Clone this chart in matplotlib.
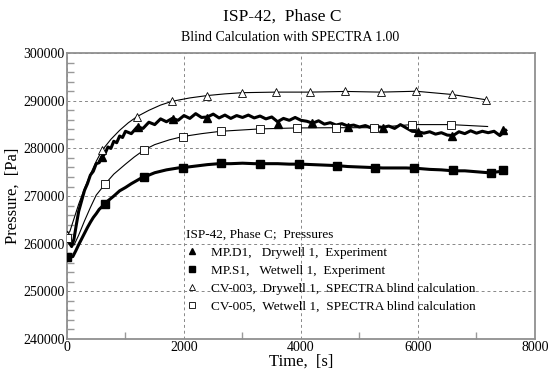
import numpy as np
import matplotlib
matplotlib.use('Agg')
from matplotlib import pyplot as plt

# MP.D1, drywell 1, experiment (thick noisy line)
d1_t = [0, 40, 80, 120, 160, 200, 250, 300, 350, 400, 450, 500, 550, 600, 650, 700, 750, 800,
        850, 900, 950, 1000, 1100, 1200, 1300, 1400, 1500, 1600, 1700, 1800, 1900, 2000, 2100,
        2200, 2300, 2400, 2500, 2600, 2700, 2800, 2900, 3000, 3100, 3200, 3300, 3400, 3500,
        3600, 3700, 3800, 3900, 4000, 4100, 4200, 4300, 4400, 4500, 4600, 4700, 4800, 4900,
        5000, 5100, 5200, 5300, 5400, 5500, 5600, 5700, 5800, 5900, 6000, 6100, 6200, 6300,
        6400, 6500, 6600, 6700, 6800, 6900, 7000, 7100, 7200, 7300, 7400, 7500]
d1_p = [261000, 260200, 259400, 261000, 264000, 266800, 269000, 271200, 272600, 274400, 275200,
        276800, 277000, 278300, 278900, 280300, 280000, 281500, 281200, 282600, 282300, 283600,
        283100, 284500, 284200, 285500, 285000, 286200, 285600, 286300, 285900, 286900, 286300,
        287300, 286500, 286600, 287200, 286400, 287000, 286300, 286900, 286500, 287000, 286400,
        286800, 286200, 286600, 285600, 286300, 285900, 286500, 285900, 285700, 285300, 285800,
        285100, 285400, 284900, 285200, 284700, 284900, 284500, 284800, 284300, 284600, 284400,
        284700, 284200, 285000, 284300, 283600, 283500, 283200, 283500, 283000, 283300, 282800,
        282700, 283500, 283100, 283700, 283200, 283600, 283300, 283600, 282700, 283800]
d1_mark_t = [0, 600, 1210, 1820, 2390, 3600, 4190, 4800, 5400, 6000, 6580, 7460]
d1_mark_p = [261800, 278200, 284500, 286100, 286400, 285200, 285300, 284600, 284300, 283400,
             282700, 283900]

# MP.S1, wetwell 1, experiment
s1_t = [0, 50, 100, 150, 200, 250, 300, 350, 400, 450, 500, 550, 600, 650, 700, 800, 900, 1000,
        1100, 1200, 1300, 1400, 1500, 1600, 1700, 1800, 1900, 2000, 2200, 2400, 2600, 2800,
        3000, 3200, 3400, 3600, 3800, 4000, 4200, 4400, 4600, 4800, 5000, 5200, 5400, 5600,
        5800, 6000, 6200, 6400, 6600, 6800, 7000, 7200, 7300, 7500]
s1_p = [257200, 257200, 257300, 258500, 259800, 261000, 262200, 263400, 264500, 265500, 266300,
        267200, 267800, 268400, 269000, 270000, 271100, 271800, 272600, 273300, 274000, 274400,
        274900, 275200, 275500, 275700, 275900, 276000, 276300, 276600, 276800, 276800, 276900,
        276800, 276800, 276800, 276700, 276700, 276600, 276500, 276400, 276200, 276100, 276000,
        275900, 275900, 275900, 275800, 275600, 275500, 275300, 275300, 275100, 274900, 275000,
        275300]
s1_mark_t = [0, 650, 1320, 1980, 2630, 3300, 3960, 4615, 5270, 5925, 6590, 7250, 7460]
s1_mark_p = [257200, 268400, 274100, 275900, 276900, 276800, 276800, 276400, 275900, 275900,
             275400, 274900, 275400]

# CV-003, drywell 1, SPECTRA blind calculation
cv3_t = [0, 50, 100, 200, 300, 400, 500, 600, 750, 900, 1050, 1200, 1400, 1600, 1800, 2100,
         2400, 2700, 3000, 3570, 4160, 4760, 5360, 5970, 6575, 7170]
cv3_p = [261800, 262600, 264500, 268300, 271600, 274600, 277300, 279600, 281900, 283800,
         285400, 286700, 288000, 289100, 289900, 290600, 291100, 291450, 291700, 291820,
         291820, 291960, 291820, 292000, 291330, 290200]
cv3_mark_t = [0, 600, 1200, 1800, 2400, 3000, 3570, 4160, 4760, 5360, 5970, 6575, 7170]
cv3_mark_p = [261800, 279600, 286700, 289900, 291100, 291700, 291820, 291820, 291960, 291820,
              292000, 291330, 290200]

# CV-005, wetwell 1, SPECTRA blind calculation
cv5_t = [0, 60, 120, 200, 300, 400, 500, 650, 800, 1000, 1150, 1320, 1500, 1750, 1980, 2300,
         2630, 3300, 3930, 4590, 5240, 5890, 6560, 7190]
cv5_p = [261300, 260000, 259700, 261800, 264800, 267600, 270200, 272500, 274600, 276700,
         278200, 279700, 280800, 281800, 282500, 283100, 283600, 284100, 284300, 284350,
         284350, 285000, 285000, 284600]
cv5_mark_t = [0, 650, 1320, 1980, 2630, 3300, 3930, 4590, 5240, 5890, 6560]
cv5_mark_p = [261300, 272500, 279700, 282500, 283600, 284100, 284300, 284350, 284350, 285000,
              285000]

plt.rcParams['font.family'] = ['Liberation Serif', 'DejaVu Serif']

fig = plt.figure(figsize=(5.49, 3.69), dpi=100)
ax = fig.add_axes([0.122, 0.0813, 0.8525, 0.7747])

ax.plot(cv3_t, cv3_p, color='black', lw=0.8, zorder=3)
ax.plot(cv5_t, cv5_p, color='black', lw=0.8, zorder=3)
ax.plot(d1_t, d1_p, color='black', lw=2.2, zorder=4)
ax.plot(s1_t, s1_p, color='black', lw=2.2, zorder=4)

ax.plot(d1_mark_t, d1_mark_p, ls='none', marker='^', ms=5.5, color='black', zorder=5,
        label='MP.D1,   Drywell 1,  Experiment')
ax.plot(s1_mark_t, s1_mark_p, ls='none', marker='s', ms=5.5, color='black', zorder=5,
        label='MP.S1,   Wetwell 1,  Experiment')
ax.plot(cv3_mark_t, cv3_mark_p, ls='none', marker='^', ms=5.5, mfc='white', mec='black',
        mew=0.6, zorder=5, label='CV-003,  Drywell 1,  SPECTRA blind calculation')
ax.plot(cv5_mark_t, cv5_mark_p, ls='none', marker='s', ms=5.5, mfc='white', mec='black',
        mew=0.6, zorder=5, label='CV-005,  Wetwell 1,  SPECTRA blind calculation')

ax.set_xlim(0, 8000)
ax.set_ylim(240000, 300000)
ax.set_xticks([0, 2000, 4000, 6000, 8000])
ax.set_yticks([240000, 250000, 260000, 270000, 280000, 290000, 300000])
ax.set_xticks([1000, 3000, 5000, 7000], minor=True)
ax.set_yticks(np.arange(240000, 300001, 2000), minor=True)
ax.tick_params(which='major', length=0, labelsize=10, pad=1.5)
ax.tick_params(which='minor', direction='in', length=5, color='#999999', width=1.0)
ax.grid(True, which='major', ls=(0, (3, 3)), color='#888888', lw=0.7)
for s in ax.spines.values():
    s.set_color('#909090')
    s.set_linewidth(1.3)

ax.set_xlabel('Time,  [s]', fontsize=12, labelpad=0)
ax.set_ylabel('Pressure,  [Pa]', fontsize=12, labelpad=2)

leg = ax.legend(loc='upper left', bbox_to_anchor=(0.24, 0.41), frameon=False, fontsize=9.5,
                title='ISP-42, Phase C;  Pressures', title_fontsize=9.5, handlelength=1.0,
                handletextpad=0.9, labelspacing=0.45, borderpad=0, markerscale=0.9)
leg._legend_box.align = 'left'

fig.text(0.515, 0.945, 'ISP-42,  Phase C', ha='center', va='baseline', fontsize=12.5)
fig.text(0.528, 0.888, 'Blind Calculation with SPECTRA 1.00', ha='center', va='baseline',
         fontsize=10)

fig.savefig('out.png', dpi=100)
